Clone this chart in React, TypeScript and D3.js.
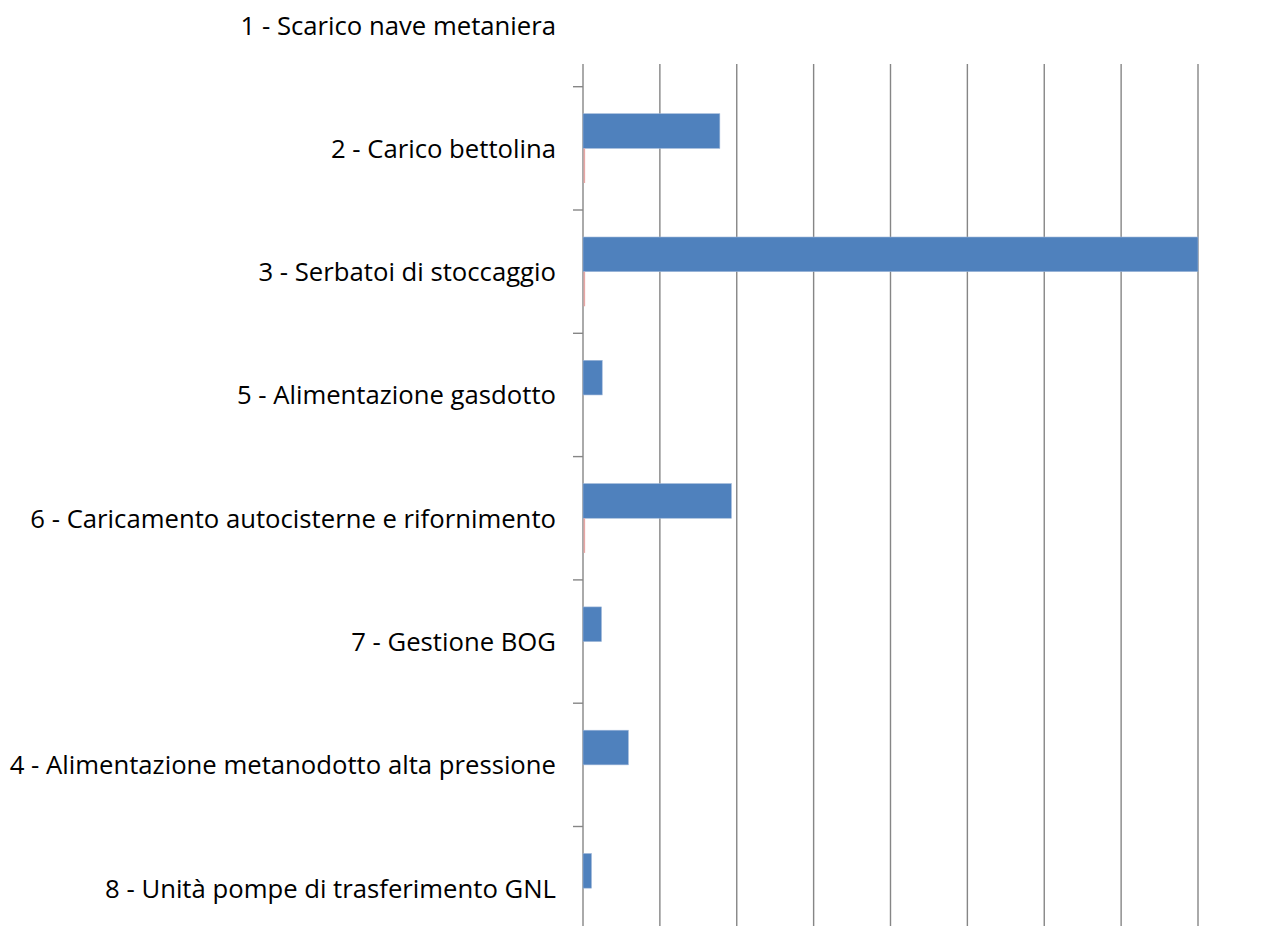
import React, { useEffect } from "react";
import * as d3 from "d3";

const categories = [
  "1 - Scarico nave metaniera",
  "2 - Carico bettolina",
  "3 - Serbatoi di stoccaggio",
  "5 - Alimentazione gasdotto",
  "6 - Caricamento autocisterne e rifornimento",
  "7 - Gestione BOG",
  "4 - Alimentazione metanodotto alta pressione",
  "8 - Unità pompe di trasferimento GNL",
];
const seriesA = [0, 1.78, 8.0, 0.25, 1.93, 0.24, 0.59, 0.11];
const seriesB = [0, 0.02, 0.02, 0, 0.02, 0, 0, 0];
const seriesKeys = ["a", "b"];
const gridTicks = [0, 1, 2, 3, 4, 5, 6, 7, 8];

const W = 1267;
const H = 926;
const plotLeft = 583;
const plotRight = 1198;
const plotTop = 64;
const step = 123.3;

export default function App() {
  useEffect(() => {
    document.body.style.margin = "0";
  }, []);

  const y = d3
    .scaleBand<string>()
    .domain(categories)
    .range([86.7 - step, 86.7 + step * (categories.length - 1)])
    .padding(0);

  // two series per category, Excel-like gap
  const ySub = d3
    .scaleBand<string>()
    .domain(seriesKeys)
    .range([0, y.bandwidth()])
    .paddingInner(0)
    .paddingOuter(0.78);

  const x = d3.scaleLinear().domain([0, 8]).range([plotLeft, plotRight]);
  const plotBottom = y.range()[1] as number;

  const bars = categories.flatMap((c, i) => [
    { c, key: "a", v: seriesA[i], fill: "#4F81BD" },
    { c, key: "b", v: seriesB[i], fill: "#E8A6A4" },
  ]);

  return (
    <svg width={W} height={H} style={{ display: "block" }}>
      <defs>
        <clipPath id="plot">
          <rect x={0} y={plotTop} width={W} height={plotBottom - plotTop} />
        </clipPath>
      </defs>
      <g clipPath="url(#plot)">
        {gridTicks.map((t) => (
          <line
            key={t}
            x1={x(t)}
            x2={x(t)}
            y1={plotTop}
            y2={plotBottom}
            stroke="#868686"
            strokeWidth={1.4}
          />
        ))}
        {categories.slice(1).map((c) => (
          <line
            key={c}
            x1={plotLeft - 10}
            x2={plotLeft}
            y1={y(c)!}
            y2={y(c)!}
            stroke="#868686"
            strokeWidth={1.4}
          />
        ))}
        {bars
          .filter((b) => b.v > 0)
          .map((b) => (
            <rect
              key={b.c + b.key}
              x={x(0) + (b.key === "b" ? 0.6 : 0)}
              y={y(b.c)! + ySub(b.key)!}
              width={x(b.v) - x(0)}
              height={ySub.bandwidth()}
              fill={b.fill}
              stroke={b.key === "a" ? "#9db6d8" : "none"}
              strokeWidth={0.6}
            />
          ))}
      </g>
      {categories.map((c) => (
        <text
          key={c}
          x={556}
          y={y(c)! + y.bandwidth() / 2}
          textAnchor="end"
          dominantBaseline="central"
          fontFamily="'Open Sans', Lato, sans-serif"
          fontSize={25.7}
          fill="#000"
        >
          {c}
        </text>
      ))}
    </svg>
  );
}
